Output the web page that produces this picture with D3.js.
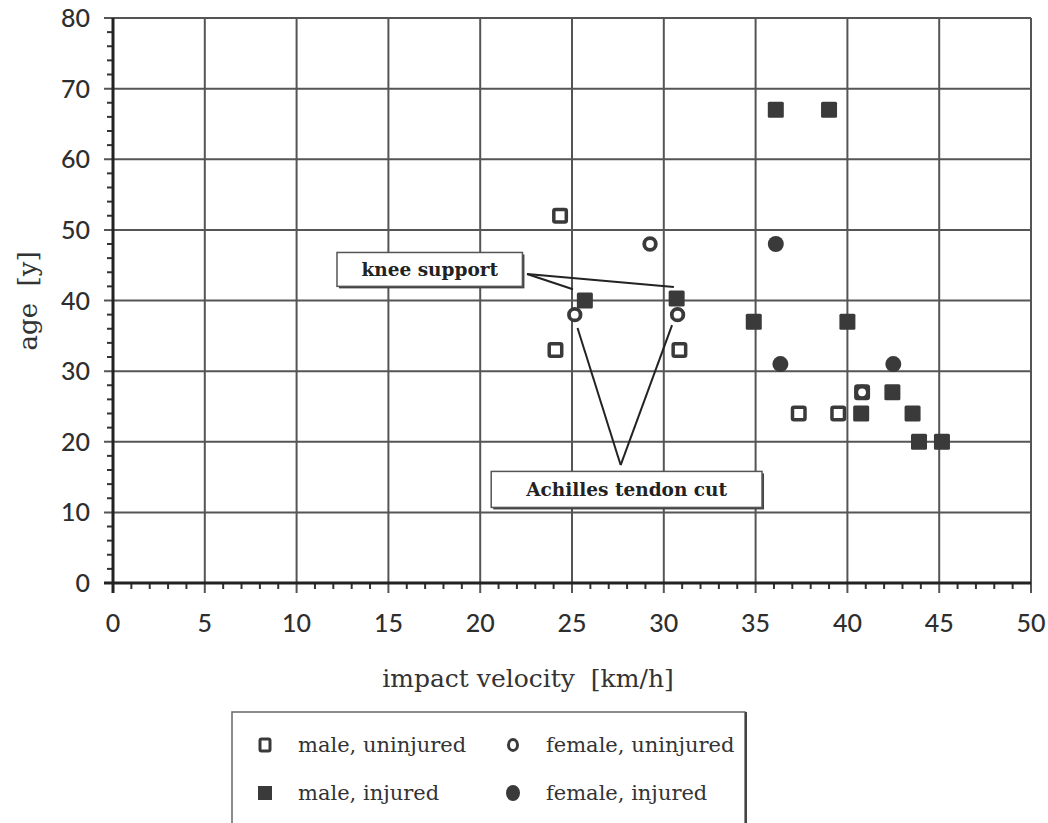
<!DOCTYPE html>
<html>
<head>
<meta charset="utf-8">
<script src="https://cdn.jsdelivr.net/npm/d3@7"></script>
<style>
  html, body { margin: 0; padding: 0; background: #fff; }
  svg { display: block; }
</style>
</head>
<body>
<svg id="chart" width="1048" height="823"></svg>
<script>
// ---------- data ----------
const maleUninjured = [
  {v: 24.35, a: 52}, {v: 24.1, a: 33}, {v: 30.85, a: 33},
  {v: 37.35, a: 24}, {v: 39.5, a: 24}, {v: 40.8, a: 27}
];
const maleInjured = [
  {v: 36.1, a: 67}, {v: 39.0, a: 67}, {v: 25.7, a: 40}, {v: 30.7, a: 40.3},
  {v: 34.9, a: 37}, {v: 40.0, a: 37}, {v: 40.75, a: 24}, {v: 42.45, a: 27},
  {v: 43.55, a: 24}, {v: 43.9, a: 20}, {v: 45.15, a: 20}
];
const femaleUninjured = [
  {v: 29.25, a: 48}, {v: 25.15, a: 38}, {v: 30.75, a: 38}, {v: 40.8, a: 27}
];
const femaleInjured = [
  {v: 36.1, a: 48}, {v: 36.35, a: 31}, {v: 42.5, a: 31}
];
const xTicks = [0, 5, 10, 15, 20, 25, 30, 35, 40, 45, 50];
const yTicks = [0, 10, 20, 30, 40, 50, 60, 70, 80];
const xLabel = "impact velocity  [km/h]";
const yLabel = "age  [y]";
const legendItems = [
  {label: "male, uninjured", kind: "sqOpen"},
  {label: "female, uninjured", kind: "circOpen"},
  {label: "male, injured", kind: "sqFill"},
  {label: "female, injured", kind: "circFill"}
];
// annotations (data coordinates)
const kneeBox = {label: "knee support", v0: 12.2, v1: 22.3, a0: 42.0, a1: 46.8};
const kneeLines = [
  [{v: 22.55, a: 43.75}, {v: 25.05, a: 41.6}],
  [{v: 22.55, a: 43.75}, {v: 30.55, a: 41.9}]
];
const achillesBox = {label: "Achilles tendon cut", v0: 20.6, v1: 35.35, a0: 10.7, a1: 15.8};
const achillesLines = [
  [{v: 27.65, a: 16.7}, {v: 25.3, a: 36.1}],
  [{v: 27.65, a: 16.7}, {v: 30.45, a: 36.5}]
];

// ---------- layout ----------
const svg = d3.select("#chart");
const L = 113, T = 18, W = 918, H = 565;
const x = d3.scaleLinear().domain([0, 50]).range([L, L + W]);
const y = d3.scaleLinear().domain([0, 80]).range([T + H, T]);
const ink = "#333";
const grid = "#555";
const serif = "'DejaVu Serif', serif";
const sans = "Lato, 'Open Sans', sans-serif";

// gridlines
svg.append("g").selectAll("line").data(yTicks).join("line")
  .attr("x1", L - 9).attr("x2", L + W)
  .attr("y1", d => y(d)).attr("y2", d => y(d))
  .attr("stroke", grid).attr("stroke-width", 2);
svg.append("g").selectAll("line").data(xTicks).join("line")
  .attr("x1", d => x(d)).attr("x2", d => x(d))
  .attr("y1", T).attr("y2", T + H + 10)
  .attr("stroke", grid).attr("stroke-width", 2);

// minor ticks
const yMinor = d3.range(0, 81, 2).filter(d => d % 10 !== 0);
svg.append("g").selectAll("line").data(yMinor).join("line")
  .attr("x1", L - 6).attr("x2", L)
  .attr("y1", d => y(d)).attr("y2", d => y(d))
  .attr("stroke", ink).attr("stroke-width", 2);
const xMinor = d3.range(0, 51, 1).filter(d => d % 5 !== 0);
svg.append("g").selectAll("line").data(xMinor).join("line")
  .attr("x1", d => x(d)).attr("x2", d => x(d))
  .attr("y1", T + H).attr("y2", T + H + 6)
  .attr("stroke", ink).attr("stroke-width", 2);

// axis lines
svg.append("line").attr("x1", L).attr("x2", L).attr("y1", T).attr("y2", T + H + 10)
  .attr("stroke", "#222").attr("stroke-width", 3);
svg.append("line").attr("x1", L - 9).attr("x2", L + W).attr("y1", T + H).attr("y2", T + H)
  .attr("stroke", "#222").attr("stroke-width", 3);

// tick labels
svg.append("g").selectAll("text").data(yTicks).join("text")
  .attr("x", L - 23).attr("y", d => y(d)).attr("dy", "0.36em")
  .attr("text-anchor", "end").attr("font-family", sans).attr("font-size", 25)
  .attr("font-weight", 500).attr("fill", "#2e2e2e").text(d => d);
svg.append("g").selectAll("text").data(xTicks).join("text")
  .attr("x", d => x(d)).attr("y", T + H + 49)
  .attr("text-anchor", "middle").attr("font-family", sans).attr("font-size", 25)
  .attr("font-weight", 500).attr("fill", "#2e2e2e").text(d => d);

// axis titles
svg.append("text").attr("x", 528).attr("y", 687)
  .attr("text-anchor", "middle").attr("font-family", serif).attr("font-size", 25)
  .attr("fill", ink).style("white-space", "pre").text(xLabel);
svg.append("text").attr("transform", `translate(37, 301) rotate(-90)`)
  .attr("text-anchor", "middle").attr("font-family", serif).attr("font-size", 26)
  .attr("fill", ink).style("white-space", "pre").text(yLabel);

// annotation boxes
function box(b) {
  const g = svg.append("g");
  const bx = x(b.v0), by = y(b.a1), bw = x(b.v1) - x(b.v0), bh = y(b.a0) - y(b.a1);
  g.append("rect").attr("x", bx + 2).attr("y", by + 2).attr("width", bw).attr("height", bh)
    .attr("fill", "#444");
  g.append("rect").attr("x", bx).attr("y", by).attr("width", bw).attr("height", bh)
    .attr("fill", "#fff").attr("stroke", "#555").attr("stroke-width", 1.5);
  g.append("text").attr("x", bx + bw / 2).attr("y", by + bh / 2).attr("dy", "0.35em")
    .attr("text-anchor", "middle").attr("font-family", serif).attr("font-size", 18.5)
    .attr("font-weight", "bold").attr("fill", "#222").text(b.label);
}
function leaders(lines) {
  svg.append("g").selectAll("line").data(lines).join("line")
    .attr("x1", d => x(d[0].v)).attr("y1", d => y(d[0].a))
    .attr("x2", d => x(d[1].v)).attr("y2", d => y(d[1].a))
    .attr("stroke", "#222").attr("stroke-width", 2);
}
box(kneeBox); leaders(kneeLines);
box(achillesBox); leaders(achillesLines);

// markers
const S = 16;
function drawSquares(data, filled) {
  svg.append("g").selectAll("rect").data(data).join("rect")
    .attr("x", d => x(d.v) - (filled ? S / 2 : S / 2 - 1.75))
    .attr("y", d => y(d.a) - (filled ? S / 2 : S / 2 - 1.75))
    .attr("width", filled ? S : S - 3.5).attr("height", filled ? S : S - 3.5)
    .attr("rx", 1.5)
    .attr("fill", filled ? "#3a3a3a" : "#fff")
    .attr("stroke", filled ? "none" : "#3a3a3a").attr("stroke-width", 3.5);
}
function drawCircles(data, filled) {
  svg.append("g").selectAll("circle").data(data).join("circle")
    .attr("cx", d => x(d.v)).attr("cy", d => y(d.a))
    .attr("r", filled ? 8 : 5.8)
    .attr("fill", filled ? "#3a3a3a" : "#fff")
    .attr("stroke", filled ? "none" : "#3a3a3a").attr("stroke-width", 3.8);
}
drawSquares(maleUninjured, false);
drawSquares(maleInjured, true);
drawCircles(femaleUninjured, false);
drawCircles(femaleInjured, true);

// legend
const lg = svg.append("g");
lg.append("rect").attr("x", 232).attr("y", 712).attr("width", 513).attr("height", 130)
  .attr("fill", "#fff").attr("stroke", "#666").attr("stroke-width", 1.5);
lg.append("line").attr("x1", 746).attr("x2", 746).attr("y1", 712).attr("y2", 823)
  .attr("stroke", "#444").attr("stroke-width", 2);
const colX = [265, 513], rowY = [745, 793];
legendItems.forEach((it, i) => {
  const cx = colX[i % 2], cy = rowY[Math.floor(i / 2)];
  if (it.kind === "sqOpen") {
    lg.append("rect").attr("x", cx - 5).attr("y", cy - 6).attr("width", 10).attr("height", 12)
      .attr("rx", 1.5).attr("fill", "#fff").attr("stroke", "#3a3a3a").attr("stroke-width", 3);
  } else if (it.kind === "sqFill") {
    lg.append("rect").attr("x", cx - 7).attr("y", cy - 7).attr("width", 14).attr("height", 14)
      .attr("fill", "#3a3a3a");
  } else if (it.kind === "circOpen") {
    lg.append("ellipse").attr("cx", cx).attr("cy", cy).attr("rx", 4.5).attr("ry", 5.5)
      .attr("fill", "#fff").attr("stroke", "#3a3a3a").attr("stroke-width", 3);
  } else {
    lg.append("ellipse").attr("cx", cx).attr("cy", cy).attr("rx", 7).attr("ry", 8)
      .attr("fill", "#3a3a3a");
  }
  lg.append("text").attr("x", cx + 33).attr("y", cy).attr("dy", "0.35em")
    .attr("font-family", serif).attr("font-size", 21).attr("fill", ink).text(it.label);
});
</script>
</body>
</html>
